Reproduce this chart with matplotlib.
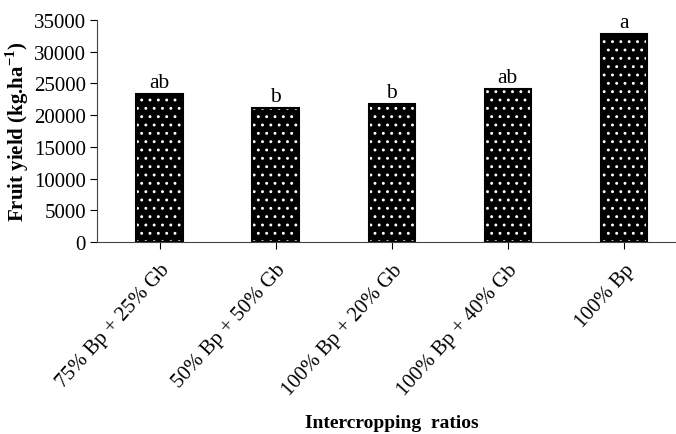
import matplotlib.pyplot as plt

ratios = ['75% Bp + 25% Gb', '50% Bp + 50% Gb', '100% Bp + 20% Gb',
          '100% Bp + 40% Gb', '100% Bp']
fruit_yield = [23400, 21200, 21800, 24200, 32800]
letters = ['ab', 'b', 'b', 'ab', 'a']
y_ticks = [0, 5000, 10000, 15000, 20000, 25000, 30000, 35000]

plt.rcParams['font.family'] = 'Liberation Serif'
plt.rcParams['mathtext.fontset'] = 'custom'
plt.rcParams['mathtext.rm'] = 'Liberation Serif'
plt.rcParams['mathtext.bf'] = 'Liberation Serif:bold'
plt.rcParams['hatch.linewidth'] = 0.9

fig = plt.figure(figsize=(6.76, 4.35), dpi=100)
ax = fig.add_axes([0.1435, 0.4414, 0.8565, 0.5103])

x = list(range(len(ratios)))
ax.bar(x, fruit_yield, width=0.4, color='black', edgecolor='white',
       linewidth=0, hatch='..')
ax.bar(x, fruit_yield, width=0.4, color='none', edgecolor='black', linewidth=1.5)

for xi, v, lab in zip(x, fruit_yield, letters):
    ax.text(xi, v + 250, lab, ha='center', va='bottom', fontsize=15.5)

ax.set_ylim(0, 35000)
ax.set_xlim(-0.54, 4.45)
ax.set_yticks(y_ticks)
ax.set_xticks(x)
ax.set_xticklabels(ratios, rotation=48, ha='right', rotation_mode='anchor', fontsize=15)
ax.tick_params(axis='y', labelsize=15, direction='out', length=5, width=0.8, pad=3)
ax.tick_params(axis='x', direction='out', length=5, width=0.8, pad=8)

for s in ['top', 'right']:
    ax.spines[s].set_visible(False)
ax.spines['left'].set_color('#444444')
ax.spines['bottom'].set_color('#444444')

ax.set_ylabel('Fruit yield (kg.ha$^{\\mathbf{-1}}$)', fontsize=15, fontweight='bold',
              va='center')
ax.yaxis.set_label_coords(-0.137, 0.5)
fig.text(0.58, 0.008, 'Intercropping  ratios', ha='center', va='bottom',
         fontsize=14, fontweight='bold')

plt.savefig('out.png', dpi=100)
